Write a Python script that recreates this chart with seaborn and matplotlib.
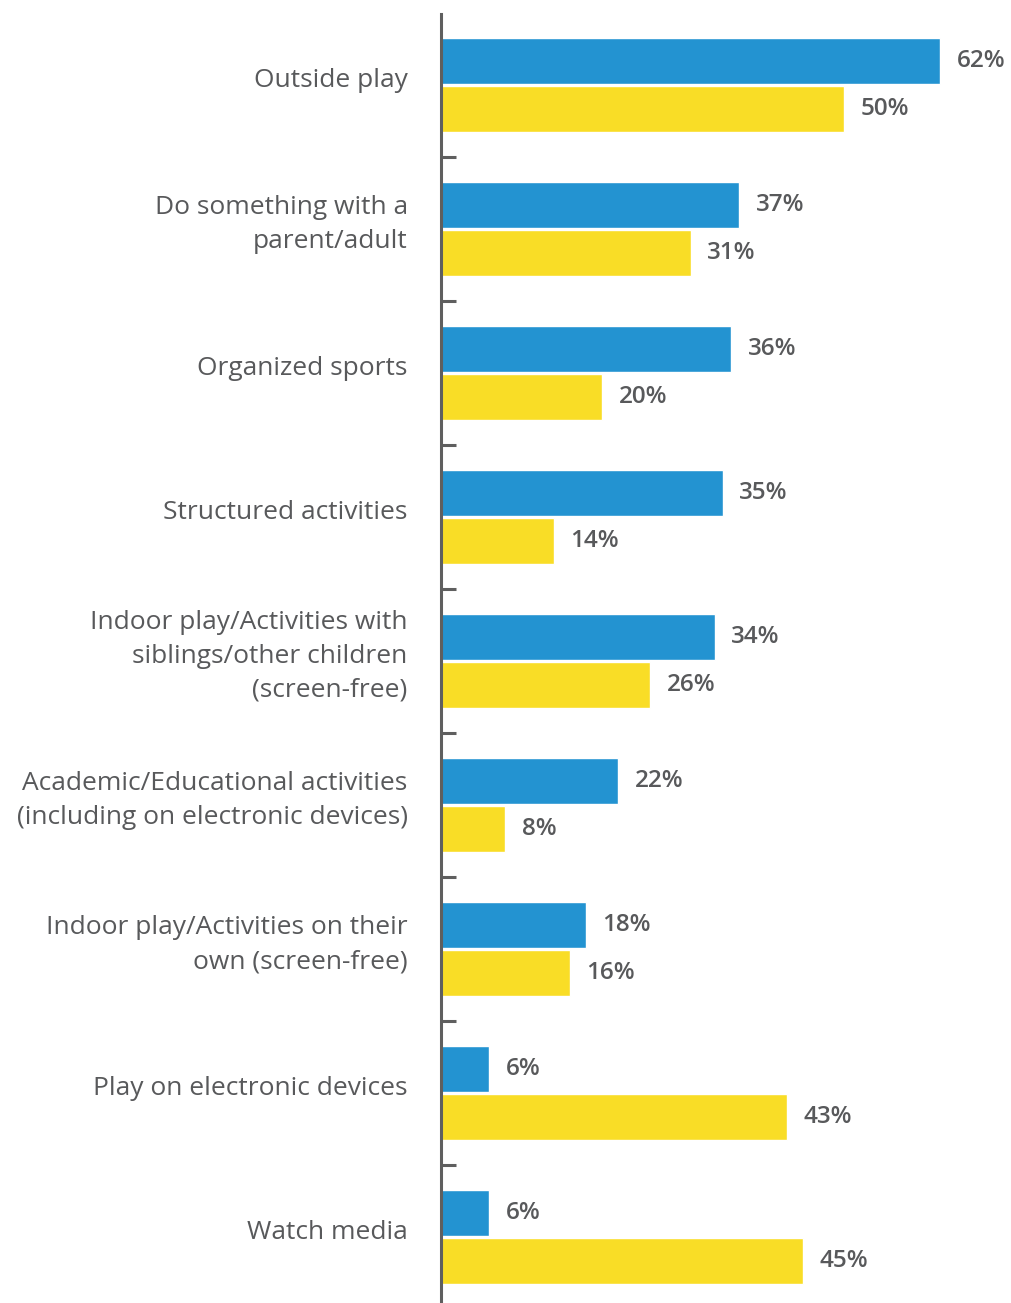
import matplotlib
matplotlib.use("Agg")
import matplotlib.pyplot as plt
from matplotlib.ticker import FixedLocator
from matplotlib.transforms import ScaledTranslation
import seaborn as sns
import pandas as pd

categories = [
    "Outside play",
    "Do something with a\nparent/adult",
    "Organized sports",
    "Structured activities",
    "Indoor play/Activities with\nsiblings/other children\n(screen-free)",
    "Academic/Educational activities\n(including on electronic devices)",
    "Indoor play/Activities on their\nown (screen-free)",
    "Play on electronic devices",
    "Watch media",
]
series_a = [62, 37, 36, 35, 34, 22, 18, 6, 6]
series_b = [50, 31, 20, 14, 26, 8, 16, 43, 45]
series_names = ["Series A", "Series B"]
colors = ["#2393D1", "#F9DD26"]
text_color = "#58595B"
axis_color = "#5F5F5F"

df = pd.DataFrame({
    "category": categories * 2,
    "value": series_a + series_b,
    "series": [series_names[0]] * len(categories) + [series_names[1]] * len(categories),
})

sns.set_theme(style="white")
plt.rcParams["font.family"] = ["Open Sans", "DejaVu Sans"]

W, H = 1012, 1303
fig = plt.figure(figsize=(W / 100, H / 100), dpi=100)
ax_left = 441
ax_top = 14
ax = fig.add_axes([ax_left / W, 0, (W - ax_left) / W, (H - ax_top) / H])

sns.barplot(
    data=df, x="value", y="category", hue="series", order=categories,
    hue_order=series_names, palette=colors, orient="h",
    width=0.667, gap=0.04, saturation=1, legend=False, ax=ax,
)

px_per_unit = 8.05
ax.set_xlim(0, (W - ax_left) / px_per_unit)
ax.set_ylim(8.46, -0.49)

for container in ax.containers:
    ax.bar_label(container, fmt="%d%%", padding=12, fontsize=17.5,
                 fontweight="semibold", color=text_color)

for side in ["top", "right", "bottom"]:
    ax.spines[side].set_visible(False)
ax.spines["left"].set_color(axis_color)
ax.spines["left"].set_linewidth(2.2)
ax.spines["left"].set_zorder(5)

ax.set_xticks([])
ax.set_xlabel("")
ax.set_ylabel("")
ax.yaxis.set_minor_locator(FixedLocator([i + 0.5 for i in range(len(categories) - 1)]))
ax.tick_params(axis="y", which="minor", direction="in", length=11, width=2.2,
               color=axis_color, left=True)
ax.tick_params(axis="y", which="major", length=0, pad=24)
ax.set_yticks(range(len(categories)))
ax.set_yticklabels(categories, fontsize=19, color=text_color,
                   linespacing=1.47, ha="right", va="center")
shift_up = ScaledTranslation(0, 3 / 72, fig.dpi_scale_trans)
for lbl in ax.get_yticklabels():
    lbl.set_transform(lbl.get_transform() + shift_up)

fig.savefig("out.png", dpi=100)
